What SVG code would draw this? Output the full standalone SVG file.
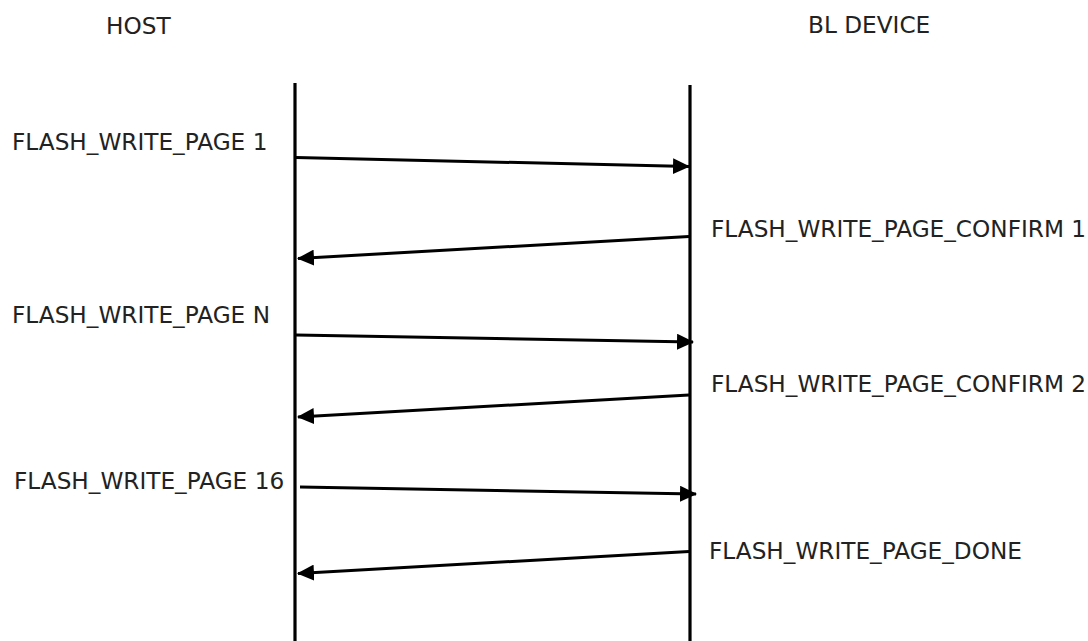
<svg xmlns="http://www.w3.org/2000/svg" width="1088" height="641" viewBox="0 0 1088 641">
<style>
  text { font-family: "DejaVu Sans", "Liberation Sans", sans-serif; font-size: 23.2px; fill: #222; }
  .life { stroke: #000; stroke-width: 3.2; fill: none; }
  .msg { stroke: #000; stroke-width: 3; fill: none; marker-end: url(#ah); }
</style>
<defs>
  <marker id="ah" viewBox="0 0 17 16" refX="16" refY="8" markerWidth="17" markerHeight="16" markerUnits="userSpaceOnUse" orient="auto">
    <path d="M0,0 L17,8 L0,16 Z" fill="#000"/>
  </marker>
</defs>
<rect width="1088" height="641" fill="#fff"/>
<g id="host">
  <text x="106" y="34" font-size="22">HOST</text>
  <line class="life" x1="295" y1="83" x2="295" y2="641"/>
</g>
<g id="device">
  <text x="808" y="33" font-size="22">BL DEVICE</text>
  <line class="life" x1="690" y1="85" x2="690" y2="641"/>
</g>
<g id="labels">
  <text x="12" y="150">FLASH_WRITE_PAGE 1</text>
  <text x="711" y="237">FLASH_WRITE_PAGE_CONFIRM 1</text>
  <text x="12" y="323">FLASH_WRITE_PAGE N</text>
  <text x="711" y="392">FLASH_WRITE_PAGE_CONFIRM 2</text>
  <text x="14" y="489">FLASH_WRITE_PAGE 16</text>
  <text x="709" y="559">FLASH_WRITE_PAGE_DONE</text>
</g>
<g id="connectors">
  <line class="msg" x1="296" y1="157.5" x2="689" y2="166.5"/>
  <line class="msg" x1="689" y1="236.5" x2="298" y2="258.5"/>
  <line class="msg" x1="296" y1="335" x2="693" y2="342"/>
  <line class="msg" x1="689" y1="395" x2="298" y2="417"/>
  <line class="msg" x1="300" y1="487" x2="696" y2="494"/>
  <line class="msg" x1="689" y1="551.5" x2="298" y2="573.5"/>
</g>
</svg>
